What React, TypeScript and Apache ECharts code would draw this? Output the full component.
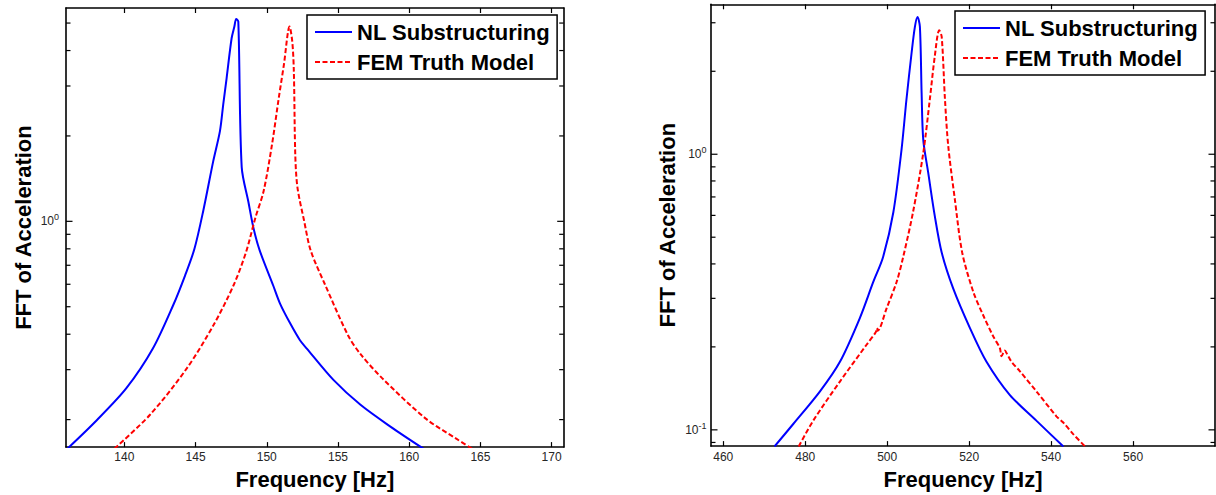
import React, { useEffect, useRef } from "react";
import * as echarts from "echarts";

// ---------- Data ----------
const leftNLFreq = [136.0, 138.06, 140.14, 142.0, 143.44, 144.26, 144.92, 145.54, 146.24, 146.71, 146.94, 147.18, 147.53, 147.72, 147.85, 148.0, 148.24, 148.71, 149.06, 149.5, 150.45, 150.93, 151.65, 152.33, 152.81, 154.68, 156.58, 158.68, 161.0];
const leftNLAmp = [0.158, 0.199, 0.258, 0.356, 0.508, 0.644, 0.8, 1.09, 1.63, 2.08, 2.58, 3.2, 4.42, 4.85, 5.17, 5.06, 1.55, 1.17, 0.95, 0.79, 0.594, 0.513, 0.436, 0.381, 0.356, 0.276, 0.2255, 0.189, 0.158];

const leftFEMFreq = [139.3, 141.8, 144.38, 146.25, 147.66, 148.54, 149.2, 149.78, 150.37, 150.84, 151.2, 151.6, 151.79, 151.9, 152.0, 152.15, 152.62, 153.08, 154.08, 155.72, 156.55, 158.1, 161.14, 163.25, 164.5];
const leftFEMAmp = [0.158, 0.208, 0.303, 0.43, 0.594, 0.778, 1.03, 1.28, 1.87, 2.72, 3.56, 4.86, 4.3, 3.38, 1.72, 1.32, 1.005, 0.79, 0.6, 0.395, 0.342, 0.28, 0.202, 0.172, 0.157];

const rightNLFreq = [472.5, 477.07, 483.6, 488.5, 493.3, 496.6, 499.0, 501.5, 503.5, 504.7, 505.95, 506.76, 507.4, 507.98, 508.4, 508.8, 510.0, 511.6, 513.3, 516.1, 520.2, 524.2, 529.9, 536.4, 543.0];
const rightNLAmp = [0.087, 0.105, 0.138, 0.177, 0.254, 0.344, 0.424, 0.616, 1.04, 1.58, 2.33, 2.9, 3.15, 2.9, 1.67, 1.13, 0.859, 0.599, 0.44, 0.326, 0.234, 0.177, 0.134, 0.108, 0.087];

const rightFEMFreq = [478.4, 481.95, 488.5, 495.0, 497.2, 497.5, 497.7, 499.85, 502.3, 503.9, 506.3, 508.8, 510.4, 511.6, 512.7, 513.3, 514.1, 514.9, 516.5, 518.3, 521.0, 523.4, 525.9, 527.5, 527.9, 528.7, 529.3, 530.3, 532.4, 536.4, 541.3, 542.9, 545.4, 548.3];
const rightFEMAmp = [0.087, 0.108, 0.15, 0.204, 0.226, 0.234, 0.229, 0.276, 0.344, 0.424, 0.616, 1.01, 1.58, 2.26, 2.82, 2.67, 1.58, 1.07, 0.688, 0.44, 0.317, 0.261, 0.218, 0.198, 0.185, 0.194, 0.188, 0.177, 0.163, 0.138, 0.112, 0.1065, 0.0965, 0.087];

const leftXTicks = [140, 145, 150, 155, 160, 165, 170];
const rightXTicks = [460, 480, 500, 520, 540, 560];
const leftYMinorTicks = [0.2, 0.3, 0.4, 0.5, 0.6, 0.7, 0.8, 0.9, 2, 3, 4, 5];
const rightYMinorTicks = [0.09, 0.2, 0.3, 0.4, 0.5, 0.6, 0.7, 0.8, 0.9, 2, 3];
const leftYMajorTicks = [1];
const rightYMajorTicks = [0.1, 1];

const leftXRange = [135.9, 170.85];
const rightXRange = [457, 580];
const leftYRange = [0.16, 5.65];
const rightYRange = [0.0873, 3.5];

const seriesNames = ["NL Substructuring", "FEM Truth Model"];
const xTitle = "Frequency [Hz]";
const yTitle = "FFT of Acceleration";

const FONT = "'Liberation Sans', Arial, Helvetica, sans-serif";

const zip = (a: number[], b: number[]) => a.map((v, i) => [v, b[i]]);

const logLabel = (v: number) => {
  const e = Math.round(Math.log10(v));
  return "10{s|" + e + "}";
};

function buildOption() {
  const axisLine = { show: true, lineStyle: { color: "#000", width: 1.6 } };
  const tickStyle = { color: "#000", width: 1.2 };

  const xAxisPair = (grid: number, range: number[], ticks: number[], margin: number) => [
    {
      gridIndex: grid,
      type: "value",
      min: range[0],
      max: range[1],
      position: "bottom",
      axisLine,
      axisTick: { show: true, inside: true, length: 5, customValues: ticks, lineStyle: tickStyle },
      axisLabel: { show: true, customValues: ticks, fontSize: 12, color: "#262626", margin, fontFamily: FONT },
      splitLine: { show: false },
      name: xTitle,
      nameLocation: "middle",
      nameGap: 19,
      nameTextStyle: { fontSize: 22, fontWeight: "bold", color: "#000", fontFamily: FONT },
    },
    {
      gridIndex: grid,
      type: "value",
      min: range[0],
      max: range[1],
      position: "top",
      axisLine,
      axisTick: { show: true, inside: true, length: 5, customValues: ticks, lineStyle: tickStyle },
      axisLabel: { show: false },
      splitLine: { show: false },
    },
  ];

  const yAxisPair = (grid: number, range: number[], labels: number[], margin: number, gap: number) => [
    {
      gridIndex: grid,
      type: "log",
      logBase: 10,
      min: range[0],
      max: range[1],
      position: "left",
      axisLine,
      axisTick: { show: false },
      axisLabel: {
        show: true,
        customValues: labels,
        formatter: logLabel,
        fontSize: 12,
        color: "#262626",
        margin,
        fontFamily: FONT,
        rich: { s: { fontSize: 9, color: "#262626", padding: [0, 0, 8, 0], fontFamily: FONT } },
      },
      splitLine: { show: false },
      minorTick: { show: false },
      name: yTitle,
      nameLocation: "middle",
      nameGap: gap,
      nameTextStyle: { fontSize: 22, fontWeight: "bold", color: "#000", fontFamily: FONT },
    },
    {
      gridIndex: grid,
      type: "log",
      logBase: 10,
      min: range[0],
      max: range[1],
      position: "right",
      axisLine,
      axisTick: { show: false },
      axisLabel: { show: false },
      splitLine: { show: false },
      minorTick: { show: false },
    },
  ];

  // y-axis tick marks (log decades + 2..9 minors), inward on both sides, placed via the axis scale
  const tickSeries = (xi: number, yi: number, xRange: number[], values: number[], len: number) => ({
    type: "custom",
    xAxisIndex: xi,
    yAxisIndex: yi,
    silent: true,
    clip: false,
    z: 5,
    encode: { x: 0, y: 1 },
    data: values.map((v) => [xRange[0], v]),
    renderItem: (params: any, api: any) => {
      const v = api.value(1);
      const pL = api.coord([xRange[0], v]);
      const pR = api.coord([xRange[1], v]);
      return {
        type: "group",
        children: [
          { type: "line", shape: { x1: pL[0], y1: pL[1], x2: pL[0] + len, y2: pL[1] }, style: { stroke: "#000", lineWidth: 1.2 } },
          { type: "line", shape: { x1: pR[0] - len, y1: pR[1], x2: pR[0], y2: pR[1] }, style: { stroke: "#000", lineWidth: 1.2 } },
        ],
      };
    },
  });

  const lineSeries = (name: string, xi: number, yi: number, data: number[][], dashed: boolean) => ({
    type: "line",
    name,
    xAxisIndex: xi,
    yAxisIndex: yi,
    data,
    symbol: "none",
    smooth: 0.3,
    clip: true,
    lineStyle: { color: dashed ? "#ff0000" : "#0000ff", width: 2, type: dashed ? [5, 2.5] : "solid" },
    itemStyle: { color: dashed ? "#ff0000" : "#0000ff" },
  });

  const legendBase = {
    orient: "vertical",
    data: seriesNames,
    backgroundColor: "#fff",
    borderColor: "#000",
    borderWidth: 1.5,
    borderRadius: 0,
    padding: [6, 7, 6, 7],
    itemGap: 8,
    itemWidth: 37,
    itemHeight: 14,
    selectedMode: false,
    itemStyle: { color: "rgba(0,0,0,0)", borderWidth: 0 },
    textStyle: { fontSize: 22, fontWeight: "bold", color: "#000", fontFamily: FONT },
  };

  return {
    animation: false,
    backgroundColor: "#fff",
    textStyle: { fontFamily: FONT },
    grid: [
      { left: 66, top: 8, width: 497.7, height: 441 },
      { left: 711, top: 4.3, width: 504, height: 444.4 },
    ],
    legend: [
      { ...legendBase, left: 307, top: 15 },
      { ...legendBase, left: 955, top: 11 },
    ],
    xAxis: [
      ...xAxisPair(0, leftXRange, leftXTicks, 4),
      ...xAxisPair(1, rightXRange, rightXTicks, 5),
    ],
    yAxis: [
      ...yAxisPair(0, leftYRange, leftYMajorTicks, 7, 32),
      ...yAxisPair(1, rightYRange, rightYMajorTicks, 4.5, 33),
    ],
    series: [
      lineSeries(seriesNames[0], 0, 0, zip(leftNLFreq, leftNLAmp), false),
      lineSeries(seriesNames[1], 0, 0, zip(leftFEMFreq, leftFEMAmp), true),
      lineSeries(seriesNames[0], 2, 2, zip(rightNLFreq, rightNLAmp), false),
      lineSeries(seriesNames[1], 2, 2, zip(rightFEMFreq, rightFEMAmp), true),
      tickSeries(0, 0, leftXRange, leftYMinorTicks, 4.5),
      tickSeries(0, 0, leftXRange, leftYMajorTicks, 6.5),
      tickSeries(2, 2, rightXRange, rightYMinorTicks, 4.5),
      tickSeries(2, 2, rightXRange, rightYMajorTicks, 6.5),
    ],
  };
}

export default function App() {
  const ref = useRef<HTMLDivElement>(null);
  useEffect(() => {
    if (!ref.current) return;
    const chart = echarts.init(ref.current, undefined, { renderer: "svg" });
    chart.setOption(buildOption() as any);
    return () => chart.dispose();
  }, []);
  return (
    <div
      ref={ref}
      style={{ position: "fixed", left: 0, top: 0, width: 1216, height: 495, background: "#fff" }}
    />
  );
}
